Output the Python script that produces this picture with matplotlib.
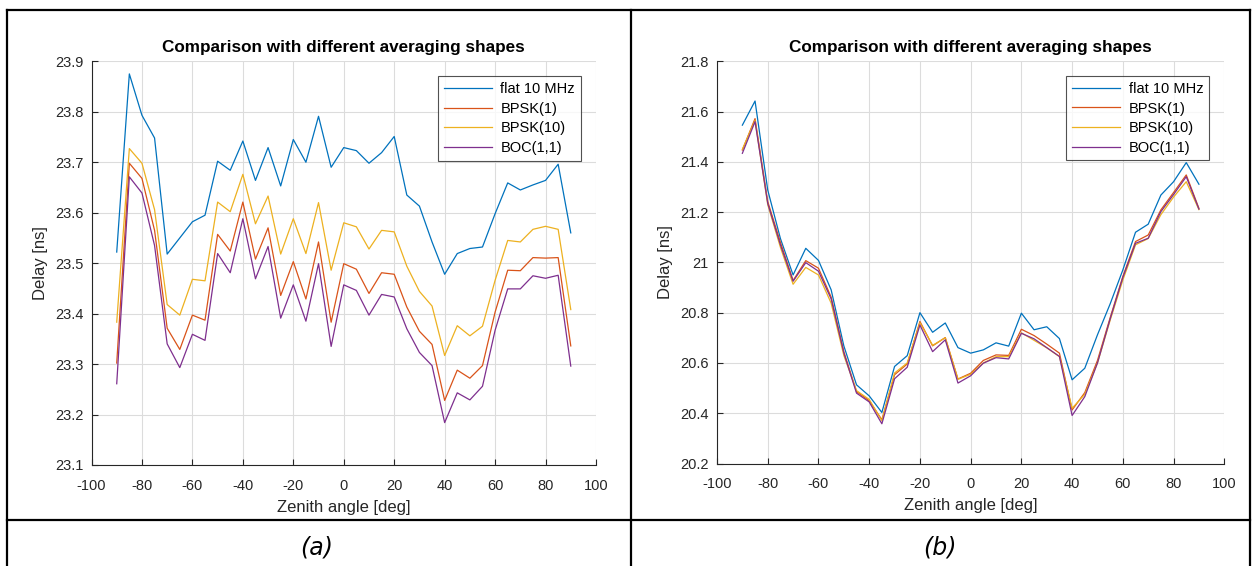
import matplotlib
matplotlib.use("Agg")
import matplotlib.pyplot as plt
from matplotlib.lines import Line2D
import numpy as np

zenith = list(range(-90, 95, 5))

# Panel (a)
a_flat = [23.522, 23.875, 23.793, 23.748, 23.518, 23.550, 23.582, 23.595, 23.702, 23.684,
          23.742, 23.664, 23.729, 23.653, 23.745, 23.700, 23.791, 23.690, 23.729, 23.723,
          23.698, 23.719, 23.751, 23.635, 23.613, 23.542, 23.478, 23.519, 23.529, 23.532,
          23.598, 23.659, 23.645, 23.655, 23.664, 23.696, 23.560]
a_bpsk1 = [23.302, 23.698, 23.668, 23.565, 23.371, 23.329, 23.397, 23.387, 23.557, 23.524,
           23.621, 23.508, 23.570, 23.436, 23.503, 23.429, 23.542, 23.383, 23.499, 23.488,
           23.440, 23.481, 23.478, 23.413, 23.365, 23.339, 23.228, 23.288, 23.272, 23.297,
           23.403, 23.486, 23.485, 23.511, 23.510, 23.511, 23.336]
a_bpsk10 = [23.383, 23.727, 23.698, 23.606, 23.418, 23.397, 23.468, 23.465, 23.621, 23.602,
            23.676, 23.578, 23.633, 23.518, 23.588, 23.519, 23.620, 23.486, 23.580, 23.572,
            23.528, 23.565, 23.562, 23.494, 23.444, 23.415, 23.317, 23.376, 23.356, 23.375,
            23.466, 23.545, 23.542, 23.567, 23.573, 23.567, 23.408]
a_boc = [23.261, 23.671, 23.639, 23.535, 23.340, 23.293, 23.359, 23.347, 23.519, 23.481,
         23.588, 23.469, 23.533, 23.391, 23.457, 23.385, 23.499, 23.335, 23.457, 23.446,
         23.397, 23.438, 23.433, 23.370, 23.323, 23.297, 23.184, 23.243, 23.229, 23.256,
         23.367, 23.449, 23.449, 23.475, 23.470, 23.476, 23.296]

# Panel (b)
b_flat = [21.546, 21.642, 21.288, 21.095, 20.950, 21.056, 21.008, 20.891, 20.668, 20.513,
          20.469, 20.403, 20.586, 20.629, 20.800, 20.722, 20.759, 20.661, 20.639, 20.652,
          20.680, 20.667, 20.798, 20.732, 20.744, 20.697, 20.533, 20.579, 20.712, 20.835,
          20.970, 21.120, 21.152, 21.268, 21.321, 21.397, 21.311]
b_bpsk1 = [21.447, 21.572, 21.242, 21.080, 20.928, 21.007, 20.977, 20.862, 20.645, 20.486,
           20.450, 20.374, 20.553, 20.596, 20.765, 20.668, 20.701, 20.536, 20.559, 20.610,
           20.632, 20.630, 20.734, 20.709, 20.675, 20.639, 20.413, 20.482, 20.610, 20.780,
           20.944, 21.083, 21.109, 21.209, 21.278, 21.348, 21.215]
b_bpsk10 = [21.450, 21.565, 21.230, 21.060, 20.913, 20.980, 20.950, 20.838, 20.630, 20.490,
            20.455, 20.370, 20.560, 20.600, 20.760, 20.670, 20.700, 20.535, 20.555, 20.600,
            20.625, 20.625, 20.720, 20.690, 20.660, 20.625, 20.420, 20.475, 20.600, 20.770,
            20.930, 21.070, 21.095, 21.190, 21.260, 21.321, 21.210]
b_boc = [21.434, 21.560, 21.235, 21.070, 20.925, 20.999, 20.965, 20.855, 20.640, 20.480,
         20.445, 20.358, 20.537, 20.583, 20.751, 20.645, 20.692, 20.520, 20.549, 20.599,
         20.621, 20.616, 20.718, 20.696, 20.661, 20.626, 20.391, 20.466, 20.600, 20.775,
         20.940, 21.076, 21.096, 21.202, 21.270, 21.341, 21.212]

labels = ["flat 10 MHz", "BPSK(1)", "BPSK(10)", "BOC(1,1)"]
colors = ["#0072BD", "#D95319", "#EDB120", "#7E2F8E"]
xticks = list(range(-100, 101, 20))
a_yticks = [23.1, 23.2, 23.3, 23.4, 23.5, 23.6, 23.7, 23.8, 23.9]
b_yticks = [20.2, 20.4, 20.6, 20.8, 21.0, 21.2, 21.4, 21.6, 21.8]
title = "Comparison with different averaging shapes"

plt.rcParams['font.family'] = ['Liberation Sans', 'DejaVu Sans']
plt.rcParams['axes.unicode_minus'] = False

fig = plt.figure(figsize=(12.55, 5.66), dpi=100)
W, H = 1255.0, 566.0

def make_axes(rect_px, series, yticks):
    l, t, r, b = rect_px
    ax = fig.add_axes([l / W, 1 - b / H, (r - l) / W, (b - t) / H])
    for s, c, lab in zip(series, colors, labels):
        ax.plot(zenith, s, color=c, lw=0.9, label=lab)
    ax.set_xlim(-100, 100)
    ax.set_ylim(yticks[0], yticks[-1])
    ax.set_xticks(xticks)
    ax.set_yticks(yticks)
    ax.set_xticklabels(["%d" % v for v in xticks])
    ax.set_yticklabels(["%g" % v for v in yticks])
    ax.grid(True, color="#dcdcdc", lw=0.8)
    ax.set_axisbelow(True)
    for sp in ["top", "right"]:
        ax.spines[sp].set_visible(False)
    for sp in ["left", "bottom"]:
        ax.spines[sp].set_color("#262626")
        ax.spines[sp].set_linewidth(0.8)
    ax.tick_params(direction="in", length=4, width=0.8, colors="#262626",
                   labelsize=10.5)
    ax.tick_params(axis="x", pad=10)
    ax.tick_params(axis="y", pad=6)
    ax.set_xlabel("Zenith angle [deg]", fontsize=12, color="#262626", labelpad=5)
    ax.set_ylabel("Delay [ns]", fontsize=12, color="#262626", labelpad=5)
    ax.set_title(title, fontsize=12.3, fontweight="bold", pad=7)
    leg = ax.legend(loc="upper right", bbox_to_anchor=(0.97, 0.963), fontsize=10.5,
                    frameon=True, fancybox=False, handlelength=3.3, handletextpad=0.6,
                    borderpad=0.4, labelspacing=0.38, borderaxespad=0.0)
    leg.get_frame().set_edgecolor("#262626")
    leg.get_frame().set_linewidth(0.8)
    return ax

make_axes((91.5, 61.3, 596, 465), [a_flat, a_bpsk1, a_bpsk10, a_boc], a_yticks)
make_axes((717, 61.3, 1224.3, 463.5), [b_flat, b_bpsk1, b_bpsk10, b_boc], b_yticks)

# table borders
def fline(x0, y0, x1, y1):
    fig.add_artist(Line2D([x0 / W, x1 / W], [1 - y0 / H, 1 - y1 / H],
                          color="black", lw=1.6, transform=fig.transFigure))

fline(7, 10, 1250, 10)
fline(7, 10, 7, 566)
fline(1250, 10, 1250, 566)
fline(631, 10, 631, 566)
fline(7, 520, 1250, 520)

fig.text(317 / W, 1 - 547 / H, "(a)", fontsize=17, style="italic",
         family="DejaVu Sans", ha="center", va="center")
fig.text(940 / W, 1 - 547 / H, "(b)", fontsize=17, style="italic",
         family="DejaVu Sans", ha="center", va="center")

fig.savefig("out.png", dpi=100)
